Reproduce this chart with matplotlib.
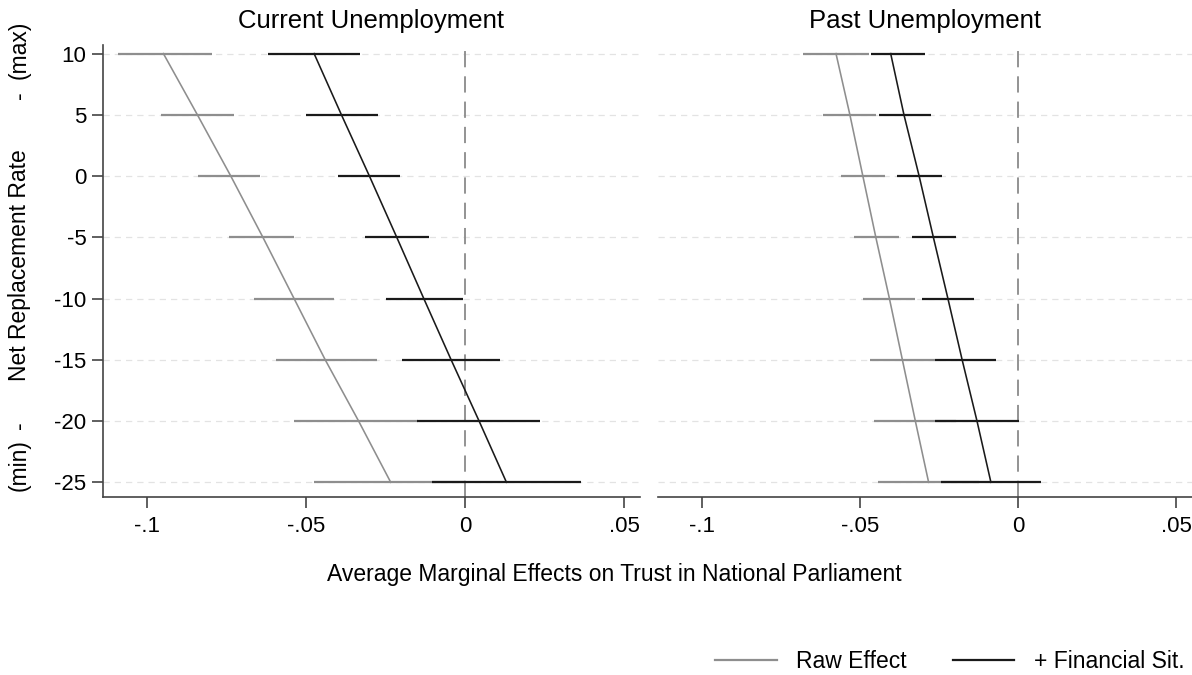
import numpy as np
import matplotlib
matplotlib.use("Agg")
import matplotlib.pyplot as plt

plt.rcParams['font.family'] = ['Liberation Sans', 'DejaVu Sans']
plt.rcParams['axes.unicode_minus'] = False

# valores del eje y (tasa neta de reemplazo)
nrr = [10, 5, 0, -5, -10, -15, -20, -25]

# panel izquierdo: desempleo actual
cur_raw = [-0.0949, -0.0842, -0.0737, -0.0636, -0.0538, -0.0440, -0.0335, -0.0234]
cur_raw_lo = [-0.1092, -0.0956, -0.0839, -0.0744, -0.0665, -0.0595, -0.0538, -0.0475]
cur_raw_hi = [-0.0797, -0.0728, -0.0646, -0.0538, -0.0411, -0.0278, -0.0149, 0.0000]
cur_fin = [-0.0475, -0.0389, -0.0301, -0.0215, -0.0130, -0.0044, 0.0044, 0.0130]
cur_fin_lo = [-0.0620, -0.0500, -0.0399, -0.0316, -0.0250, -0.0199, -0.0152, -0.0104]
cur_fin_hi = [-0.0332, -0.0275, -0.0206, -0.0114, -0.0006, 0.0111, 0.0237, 0.0364]

# panel derecho: desempleo pasado
past_raw = [-0.0576, -0.0532, -0.0491, -0.0450, -0.0407, -0.0366, -0.0325, -0.0283]
past_raw_lo = [-0.0679, -0.0616, -0.0561, -0.0518, -0.0491, -0.0470, -0.0455, -0.0443]
past_raw_hi = [-0.0473, -0.0448, -0.0420, -0.0377, -0.0326, -0.0262, -0.0195, -0.0123]
past_fin = [-0.0403, -0.0361, -0.0313, -0.0268, -0.0222, -0.0177, -0.0130, -0.0086]
past_fin_lo = [-0.0465, -0.0439, -0.0382, -0.0336, -0.0303, -0.0263, -0.0262, -0.0244]
past_fin_hi = [-0.0296, -0.0274, -0.0241, -0.0196, -0.0138, -0.0071, 0.0002, 0.0072]

titles = ["Current Unemployment", "Past Unemployment"]
gris = "#8e8e8e"
negro = "#1a1a1a"

fig = plt.figure(figsize=(11.92, 6.75), dpi=100)
ax1 = fig.add_axes([0.0864, 0.2637, 0.4505, 0.6696])
ax2 = fig.add_axes([0.552, 0.2637, 0.448, 0.6696], sharey=ax1)

paneles = [
    (ax1, cur_raw, cur_raw_lo, cur_raw_hi, cur_fin, cur_fin_lo, cur_fin_hi),
    (ax2, past_raw, past_raw_lo, past_raw_hi, past_fin, past_fin_lo, past_fin_hi),
]

for i, (ax, raw, rlo, rhi, fin, flo, fhi) in enumerate(paneles):
    for y in nrr:
        ax.axhline(y, color="#e3e3e3", lw=0.9, ls=(0, (5, 4)), zorder=0)
    ax.axvline(0, color="#8a8a8a", lw=1.3, ls=(0, (9, 5)), zorder=1)
    ax.hlines(nrr, rlo, rhi, color=gris, lw=1.6, zorder=2)
    ax.hlines(nrr, flo, fhi, color=negro, lw=1.6, zorder=3)
    ax.plot(raw, nrr, color=gris, lw=1.15, zorder=2, label="Raw Effect")
    ax.plot(fin, nrr, color=negro, lw=1.15, zorder=3, label="+ Financial Sit.")

    ax.set_xlim(-0.1139, 0.055)
    ax.set_ylim(-26.2, 10.7)
    ax.set_xticks([-0.1, -0.05, 0, 0.05])
    ax.set_xticklabels(["-.1", "-.05", "0", ".05"])
    ax.tick_params(axis="x", labelsize=16, length=8, width=1.2, color="#444444", pad=6)
    for s in ["top", "right"]:
        ax.spines[s].set_visible(False)
    ax.spines["bottom"].set_color("#444444")
    ax.spines["bottom"].set_linewidth(1.2)
    ax.set_title(titles[i], fontsize=18.5, pad=12)

ax1.set_yticks(nrr)
ax1.tick_params(axis="y", labelsize=16, length=8, width=1.2, color="#444444", pad=4)
ax1.spines["left"].set_color("#444444")
ax1.spines["left"].set_linewidth(1.2)
ax2.spines["left"].set_visible(False)
ax2.tick_params(axis="y", left=False, labelleft=False)

# etiqueta del eje y en trozos
ytxt = [("(max)", 50), ("-", 95), ("Net Replacement Rate", 265), ("-", 425), ("(min)", 465)]
for txt, py in ytxt:
    fig.text(0.016, 1 - py / 675, txt, rotation=90, fontsize=16.5,
             ha="center", va="center")

fig.text(0.515, 1 - 575 / 675, "Average Marginal Effects on Trust in National Parliament",
         fontsize=16.5, ha="center", va="center")

h, l = ax1.get_legend_handles_labels()
leg = fig.legend(h, l, loc="lower right", bbox_to_anchor=(1.011, -0.028), ncol=2, frameon=False,
                 fontsize=16.5, handlelength=2.7, columnspacing=2.0, handletextpad=0.85)
for ln in leg.get_lines():
    ln.set_linewidth(1.6)

fig.savefig("out.png", dpi=100)
